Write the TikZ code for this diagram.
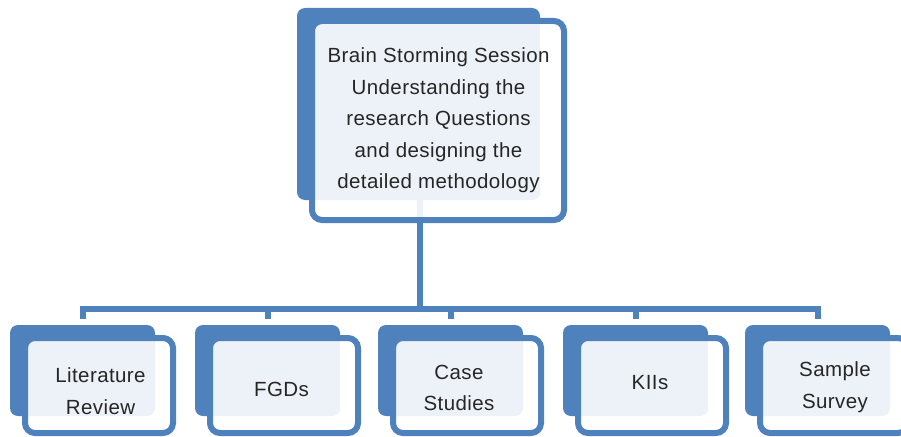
\documentclass[tikz,border=0pt]{standalone}
\usepackage{fontspec}
\setmainfont{Liberation Sans}[LetterSpace=2]
\definecolor{acc}{HTML}{4F81BD}
\definecolor{txt}{HTML}{262626}
\begin{document}
\begin{tikzpicture}[x=1pt,y=-1pt,
  backbox/.style={fill=acc,draw=none,rounded corners=8pt,inner sep=0pt,minimum width=145pt,minimum height=91pt},
  frontbox/.style={draw=acc,line width=6pt,fill=white,fill opacity=0.9,rounded corners=10pt,inner sep=0pt,minimum width=148pt,minimum height=95pt},
  conn/.style={draw=acc,line width=6pt},
  lbl/.style={text=txt,align=center,font=\fontsize{20.5pt}{31.5pt}\selectfont,inner sep=0pt}]
\useasboundingbox (0,0) rectangle (901,436);
% back shapes
\node[backbox,minimum width=243pt,minimum height=192pt] (b0) at (418.5,104) {};
\node[backbox] (b1) at (82.5,370.5) {};
\node[backbox] (b2) at (267.5,370.5) {};
\node[backbox] (b3) at (450.5,370.5) {};
\node[backbox] (b4) at (635.5,370.5) {};
\node[backbox] (b5) at (817.5,370.5) {};
% connectors
\coordinate (j) at (419.5,308.5);
\draw[conn] ([xshift=1pt]b0.south) -- ([xshift=1pt]b0.south |- j);
\draw[conn,shorten <=6pt,shorten >=6pt] (b1.north) -- (b1.north |- j) -- (b5.north |- j) -- (b5.north);
\draw[conn,shorten >=6pt] (b2.north |- j) -- (b2.north);
\draw[conn,shorten >=6pt] (b3.north |- j) -- (b3.north);
\draw[conn,shorten >=6pt] (b4.north |- j) -- (b4.north);
% front shapes
\node[frontbox,minimum width=252pt,minimum height=199pt] (f0) at (438,120.5) {};
\node[frontbox] (f1) at (99,385.5) {};
\node[frontbox] (f2) at (284,385.5) {};
\node[frontbox] (f3) at (467,385.5) {};
\node[frontbox] (f4) at (652,385.5) {};
\node[frontbox] (f5) at (834,385.5) {};
% labels
\node[lbl] (t0) at (438.5,120.5) {Brain Storming Session\\Understanding the\\research Questions\\and designing the\\detailed methodology};
\node[lbl] (t1) at (100.5,391) {Literature\\Review};
\node[lbl] (t2) at (281.5,389) {FGDs};
\node[lbl] (t3) at (459,388) {Case\\Studies};
\node[lbl] (t4) at (650,383) {KIIs};
\node[lbl] (t5) at (835,387) {Sample\\Survey};
\end{tikzpicture}
\end{document}
